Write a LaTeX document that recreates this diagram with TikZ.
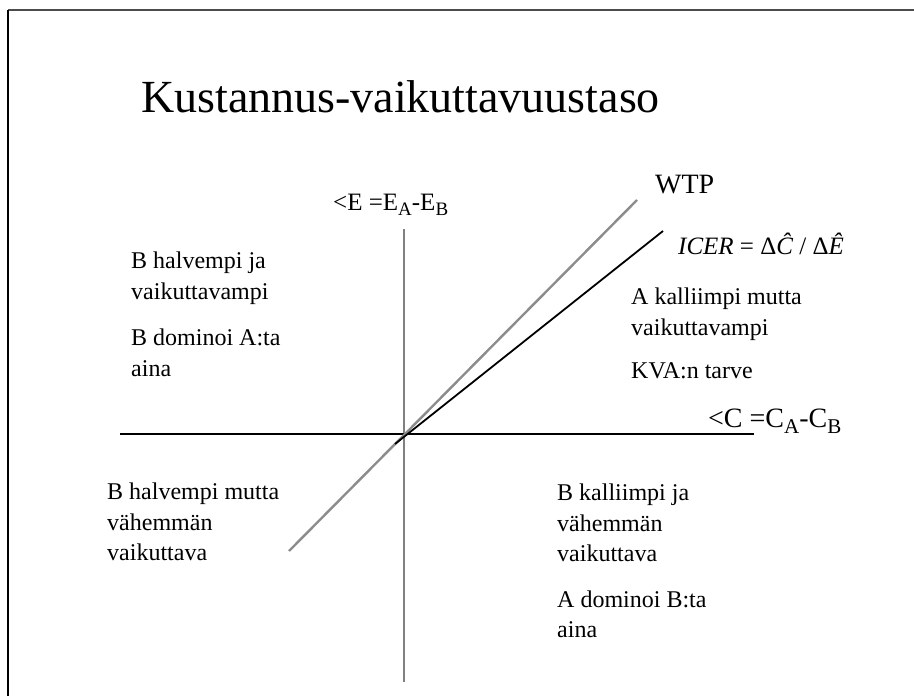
\documentclass[tikz,border=0pt]{standalone}
\usepackage{fontspec}
\setmainfont{Liberation Serif}
\usetikzlibrary{positioning}
% lowered index letter, larger than \textsubscript
\newcommand{\lowidx}[3]{\raisebox{-#2}{\fontsize{#1}{#1}\selectfont #3}}

\begin{document}
\begin{tikzpicture}[
  x=1pt, y=-1pt,
  quad/.style={anchor=north west, align=left, inner sep=0pt,
               font=\fontsize{24}{30.5}\selectfont},
  biglabel/.style={anchor=base west, inner sep=0pt,
                   font=\fontsize{28}{30}\selectfont},
  axis/.style={line width=1.4pt},
  wtpline/.style={line width=2.4pt, color=black!45},
  icerline/.style={line width=1.8pt}
]
\useasboundingbox (0,0) rectangle (914,696);

% frame (only top and left edges are inside the page)
\coordinate (corner) at (8,10);
\coordinate (framebot) at (8,696);
\coordinate (frameright) at (914,10);
\draw[line width=1.2pt, black!70] (corner) -- (frameright);
\draw[line width=1.2pt] (corner) -- (framebot);

\node[anchor=base west, inner sep=0pt, font=\fontsize{46}{56}\selectfont]
  (title) at (141,112) {Kustannus-vaikuttavuustaso};

% axes
\coordinate (origin) at (404,434);
\coordinate (ytop)   at (404,229);
\coordinate (ybot)   at (404,682);
\coordinate (xleft)  at (120,434);
\coordinate (xright) at (754,434);
\draw[axis, black!50] (ytop) -- (ybot);
\draw[axis] (xleft) -- (xright);

% threshold and ratio lines
\coordinate (wtplo)  at (289,551);
\coordinate (wtphi)  at (637,200);
\coordinate (icerlo) at (395,444);
\coordinate (icerhi) at (663,231);
\draw[wtpline] (wtplo) -- (wtphi);
\draw[icerline] (icerlo) -- (icerhi);

% axis and line labels
\node[anchor=base west, inner sep=0pt, font=\fontsize{25}{30}\selectfont]
  (elabel) at (333,210)
  {<E =E\lowidx{19}{5pt}{A}-E\lowidx{19}{5pt}{B}};
\node[biglabel] (wtplabel) at (655,193) {WTP};
\node[anchor=base west, inner sep=0pt, font=\fontsize{25}{30}\selectfont]
  (icerlabel) at (678,254)
  {{\itshape ICER} = Δ{\itshape Ĉ} / Δ{\itshape Ê}};
\node[biglabel] (clabel) at (708,427)
  {<C =C\lowidx{21}{6pt}{A}-C\lowidx{21}{6pt}{B}};

% quadrants (top of first line = baseline - 16)
\node[quad] (nw) at (131,252)
  {B halvempi ja\\vaikuttavampi\\[16pt]B dominoi A:ta\\aina};
\node[quad] (ne) at (631,288)
  {A kalliimpi mutta\\vaikuttavampi\\[13pt]KVA:n tarve};
\node[quad] (sw) at (107,483)
  {B halvempi mutta\\vähemmän\\vaikuttava};
\node[quad] (se) at (557,484)
  {B kalliimpi ja\\vähemmän\\vaikuttava\\[15pt]A dominoi B:ta\\aina};
\end{tikzpicture}
\end{document}
